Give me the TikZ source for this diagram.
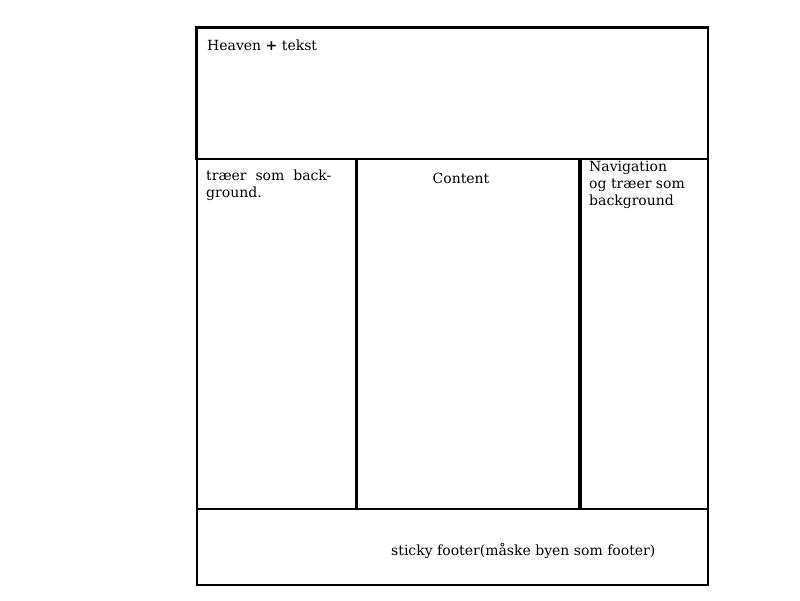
\documentclass[tikz,border=0pt]{standalone}
\usepackage{fontspec}
\setmainfont{DejaVu Serif}
\usetikzlibrary{positioning}
\tikzset{
region/.style={draw, line width=2.2pt, inner sep=0pt, anchor=north west},
caption/.style={anchor=base west, inner sep=0pt, align=left,
	font=\fontsize{14}{16.8}\selectfont},
}
\begin{document}
\begin{tikzpicture}[x=1pt,y=-1pt]
\useasboundingbox (0,0) rectangle (800,600);
%Place the regions
\node[region, minimum width=511pt, minimum height=131pt] (heaven) at (196,27) {};
\node[region, minimum width=159pt, minimum height=350pt] (trees) at (196,158) {};
\node[region, minimum width=222pt, minimum height=350pt, line width=2.4pt] (content) at (356,158) {};
\node[region, minimum width=127pt, minimum height=350pt] (nav) at (580,158) {};
\node[region, minimum width=511pt, minimum height=76pt] (footer) at (196,508) {};
\draw[line width=3pt] (heaven.south west) -- (heaven.north west) -- (heaven.north east);

%Place the texts (multi-line captions sit on their last baseline)
\node[caption] (heavenlabel) at (207,50) {Heaven \textbf{+} tekst};
\node[caption] (treeslabel) at (206,197) {træer\ \ som\ \ back-\\ground.};
\node[caption, anchor=base] (contentlabel) at (461,183) {Content};
\node[caption] (navlabel) at (589,205) {Navigation\\og\ træer\ som\\background};
\node[caption] (footerlabel) at (391,555) {sticky\ footer(måske\ byen\ som\ footer)};
\end{tikzpicture}
\end{document}
